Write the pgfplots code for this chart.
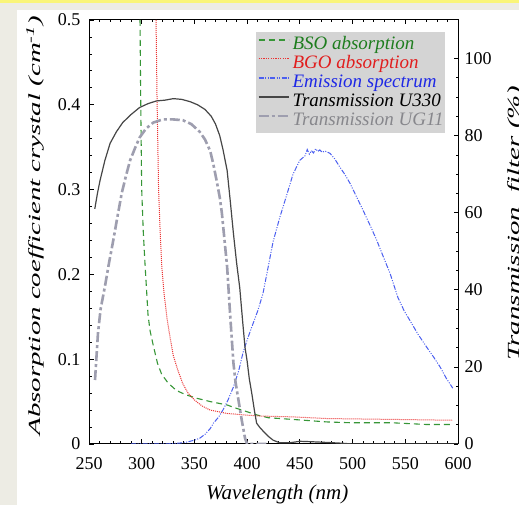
\documentclass[border=0pt]{standalone}
\usepackage{fontspec}
\setmainfont{Liberation Serif}
\usepackage{graphicx}
\usepackage{pgfplots}
\pgfplotsset{compat=1.18}

\definecolor{bsogreen}{RGB}{55,150,55}
\definecolor{bsotext}{RGB}{30,125,30}
\definecolor{bgored}{RGB}{235,50,50}
\definecolor{bgotext}{RGB}{225,30,30}
\definecolor{emblue}{RGB}{75,95,240}
\definecolor{emtext}{RGB}{30,40,230}
\definecolor{uthree}{RGB}{70,70,70}
\definecolor{ugeleven}{RGB}{158,158,175}
\definecolor{ugtext}{RGB}{135,135,140}
\definecolor{legendfill}{RGB}{212,212,212}
\definecolor{pagebeige}{RGB}{237,236,228}
\definecolor{bandyellow}{RGB}{250,245,120}

\tikzset{
  bso/.style={draw=bsogreen, color=bsogreen, line width=1.1pt, dash pattern=on 6pt off 4pt},
  bgo/.style={draw=bgored, color=bgored, line width=1pt, dash pattern=on 1pt off 1pt},
  emis/.style={draw=emblue, color=emblue, line width=1pt, dash pattern=on 5pt off 1.5pt on 1pt off 1.5pt on 1pt off 1.5pt},
  uthirty/.style={draw=uthree, color=uthree, line width=1.2pt},
  ugel/.style={draw=ugeleven, color=ugeleven, line width=2.6pt, dash pattern=on 10pt off 3pt on 3pt off 3pt},
}

% absorption coefficients (cm^-1)
\pgfplotstableread{
nm     a
298.4  0.50
299    0.41
300    0.30
301.5  0.25
303    0.215
306    0.152
308    0.133
311    0.116
315    0.095
319    0.082
325    0.072
333    0.063
342    0.058
352    0.054
365    0.050
381    0.046
390    0.042
400    0.038
410    0.034
420    0.031
443    0.029
476    0.026
500    0.025
538    0.025
570    0.023
595    0.023
}\bsotab

\pgfplotstableread{
nm     a
313.6  0.50
314.5  0.41
316    0.30
317.5  0.25
319    0.21
321    0.18
324    0.148
327    0.125
330    0.104
334    0.088
339    0.071
344    0.060
350    0.052
357    0.045
365    0.040
381    0.036
400    0.034
412    0.033
443    0.032
476    0.030
538    0.029
595    0.028
}\bgotab

% filter transmission (%)
\pgfplotstableread{
nm     t
255.5  61
258    65
260.5  68.4
265    73.5
270    78
276    81
282    83.4
290    85.5
298    87.3
306    88.3
314    89
322    89.2
330    89.6
338    89.4
346    88.8
353    88
360    86.8
366    85
370    83
374    80
377    76.5
381    71
384    63
387    54.6
390    47
393    40.5
396    31
398    25
400    21.5
402    17
404.6  12.8
407    8.5
409    5.4
412    4.3
415    3.4
420    2
424.6  1
431    0.3
440    0.3
450    0.7
460    0.6
476    0.4
490    0.2
500    0
600    0
}\uthirtytab

\pgfplotstableread{
nm     t
255.7  16.6
258.5  28.7
261    35
265    40.7
269    47
273    52.8
277    59
281    65
285    69.5
289    73.6
294    77
298    79.5
304    81.8
311    83.4
320    84.2
330    84.2
339    84
347    83
355    81
360    79
365    76
368    72.5
371    68.4
374    64
376    60
378.5  53
381    46
384    33
387    21
389    16
392    11
395    6
398    1.5
400    0
420    0
}\ugeltab

% crystal emission spectrum (arb. units)
\pgfplotstableread{
nm     e
290    0
320    0
330    0.1
338    0.3
343    0.5
350    1
355    1.5
360    2.5
365    4
368    5.4
373    7
377    8.8
382    11.5
387    14.8
392    19
396    23.6
400    27
404.6  30.5
410    34.5
415    39
420    46
424.6  52.5
431    58.8
438    65
443.5  70
450    73.6
455    74.8
457    76.4
459    75.2
461    76.1
463    75.5
465    76.6
467    75.9
469    76.3
471    75.7
474    76.0
478.6  75.4
483    74
488    71.8
493    69.8
497.6  67.6
504    64
510    60.6
517    56.5
523    52.8
530    48
535.5  44.3
543    38
549    34.5
554.5  32
562    28.5
570.6  25
577    22.5
583    20
589    17
595    14.5
}\emistab

\begin{document}
\begin{tikzpicture}
\useasboundingbox (0pt,0pt) rectangle (519pt,505pt);
\fill[pagebeige] (0pt,0pt) rectangle (519pt,505pt);
\fill[bandyellow] (0pt,502pt) rectangle (519pt,505pt);
\fill[white] (17pt,0pt) rectangle (519pt,495pt);

\pgfplotsset{
  framestyle/.style={
    scale only axis, width=369pt, height=424pt,
    xmin=250, xmax=600,
    tick align=inside,
    major tick length=4.5pt, minor tick length=2.5pt,
    every tick/.style={black, line width=0.8pt},
    axis line style={line width=1pt},
    /pgf/number format/assume math mode=true,
    tick label style={font=\fontsize{18}{20}\selectfont},
  }
}

\begin{axis}[
  framestyle,
  name=abs,
  at={(89pt,61pt)}, anchor=south west,
  ymin=0, ymax=0.5,
  xtick={250,300,...,600},
  ytick={0,0.1,0.2,0.3,0.4,0.5},
  minor x tick num=4, minor y tick num=4,
  xtick pos=both, xticklabel pos=left, ytick pos=left,
  xticklabel style={yshift=-10pt},
  yticklabel style={xshift=-5pt},
  xlabel={Wavelength (nm)},
  ylabel={\scalebox{1.7}[1]{Absorption coefficient crystal (cm\textsuperscript{-1})}},
  xlabel style={font=\fontsize{21}{24}\selectfont\itshape,
                at={(axis description cs:0.51,-0.12)}, anchor=center},
  ylabel style={font=\fontsize{17}{20}\selectfont\itshape,
                at={(axis description cs:-0.146,0.515)}, anchor=center},
]
\addplot[bso] table[x=nm, y=a] {\bsotab};
\addplot[bgo] table[x=nm, y=a] {\bgotab};
\end{axis}

\begin{axis}[
  framestyle,
  at={(abs.south west)}, anchor=south west,
  ymin=0, ymax=110,
  axis x line=none, axis y line*=right,
  ytick={0,20,...,100}, minor y tick num=3,
  yticklabel style={xshift=3pt},
  ylabel={\scalebox{1.7}[1]{Transmission\ \ filter (\%)}},
  ylabel style={font=\fontsize{17}{20}\selectfont\itshape,
                at={(axis description cs:1.1667,0.521)}, anchor=base},
  legend style={at={(axis description cs:0.4526,0.9717)}, anchor=north west,
                fill=legendfill, draw=none, inner xsep=1.5pt, inner ysep=3pt,
                font=\fontsize{19}{20}\selectfont\itshape, column sep=3pt,
                nodes={inner sep=0pt, text height=14pt, text depth=5pt}},
  legend cell align=left,
  legend image code/.code={\draw[#1, line width=1.8pt] (0pt,5pt) -- (30pt,5pt);},
]
\addlegendimage{bso}
\addlegendentry{\textcolor{bsotext}{BSO absorption}}
\addlegendimage{bgo, legend image code/.code={\draw[bgo, line width=1.4pt, dash pattern=on 1.2pt off 1.2pt] (0pt,5pt) -- (30pt,5pt);}}
\addlegendentry{\textcolor{bgotext}{BGO absorption}}
\addplot[emis] table[x=nm, y=e] {\emistab};
\addlegendentry{\textcolor{emtext}{Emission spectrum}}
\addplot[uthirty] table[x=nm, y=t] {\uthirtytab};
\addlegendentry{Transmission U330}
\addplot[ugel] table[x=nm, y=t] {\ugeltab};
\addlegendentry{\textcolor{ugtext}{Transmission UG11}}
\end{axis}
\end{tikzpicture}
\end{document}
